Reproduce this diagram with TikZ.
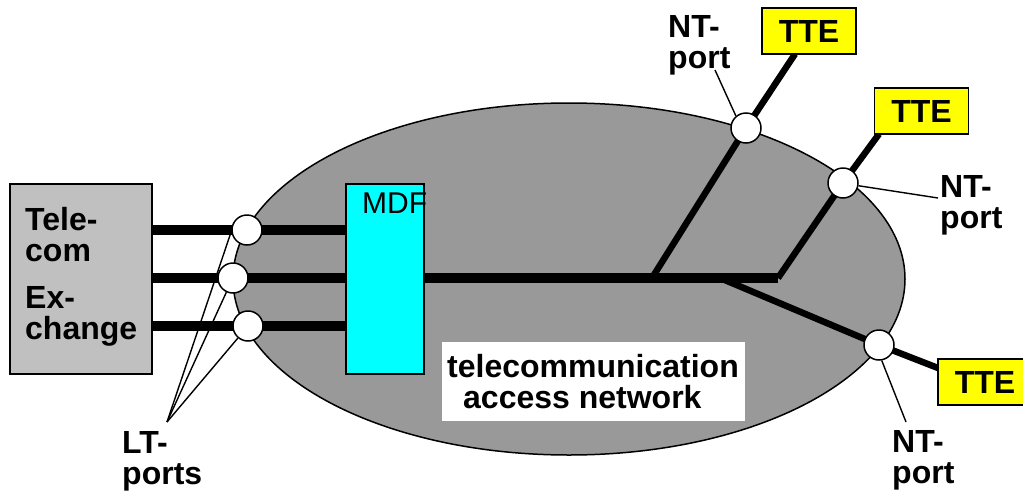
\documentclass[tikz,border=0pt]{standalone}
\usepackage{fontspec}
\setmainfont{Liberation Sans}
\definecolor{netgray}{RGB}{153,153,153}
\definecolor{exgray}{RGB}{192,192,192}
\definecolor{mdfcyan}{RGB}{0,255,255}
\definecolor{tteyellow}{RGB}{255,255,0}
\newcommand\lblfont{\fontsize{32}{31}\selectfont\bfseries}
\newcommand\ttefont{\fontsize{32}{32}\selectfont\bfseries}
\begin{document}
\begin{tikzpicture}[x=1pt,y=-1pt,
  leader/.style={line width=1.4pt},
  feeder/.style={line width=9.5pt},
  branch/.style={line width=6.5pt},
  port/.style={circle, draw, fill=white, line width=1.5pt, minimum size=30pt, inner sep=0pt},
  tte/.style={draw, fill=tteyellow, line width=1.5pt, minimum width=94pt, minimum height=46pt, inner sep=0pt, font=\ttefont},
  lbl/.style={inner sep=0pt, align=left, anchor=base west, font=\lblfont},
  blk/.style={draw, line width=1.5pt, inner sep=0pt}]
\useasboundingbox (0,0) rectangle (1023,493);
\fill[white] (0,0) rectangle (1023,493);
% network cloud
\filldraw[fill=netgray, line width=1.5pt] (569,279) ellipse [x radius=336pt, y radius=176pt];
% positions
\coordinate (p1c) at (247,230);
\coordinate (p2c) at (233,278);
\coordinate (p3c) at (248,326);
\coordinate (j1) at (652,278);
\coordinate (j2) at (778,278);
\coordinate (j3) at (720,278);
\coordinate (n1c) at (746,128);
\coordinate (n2c) at (843,183);
\coordinate (n3c) at (879,345);
\coordinate (t1in) at (795,54);
\coordinate (t2in) at (879,134);
\coordinate (t3in) at (938,368);
% exchange
\node[blk, fill=exgray, minimum width=142pt, minimum height=190pt] (ex) at (81,279) {};
\node[lbl] (extxt) at (25,339) {Tele-\\com\\[16pt]Ex-\\change};
% MDF box (coordinates for feeders)
\node[blk, fill=mdfcyan, minimum width=78pt, minimum height=190pt] (mdf) at (385,279) {};
% feeders
\draw[feeder] (ex.east |- p1c) -- (mdf.west |- p1c);
\draw[feeder] (ex.east |- p2c) -- (mdf.west |- p2c);
\draw[feeder] (ex.east |- p3c) -- (mdf.west |- p3c);
\node[blk, fill=mdfcyan, minimum width=78pt, minimum height=190pt] (mdf2) at (mdf) {};
\node[anchor=base west, inner sep=0pt, font=\fontsize{30}{30}\selectfont] (mdft) at (362,213) {MDF};
% access network lines
\draw[feeder] (mdf.east |- j2) -- (j2);
\draw[branch] (j1) -- (n1c) -- (t1in);
\draw[branch] (j2) -- (n2c) -- (t2in);
\draw[branch] (j3) -- (n3c) -- (t3in);
% text box
\node[fill=white, minimum width=303pt, minimum height=79pt, inner sep=0pt] (tanbox) at (593.5,381.5) {};
\node[lbl] (tan) at (447,408) {telecommunication\\\hspace*{16pt}access network};
% TTE boxes
\node[tte] (tte1) at (809,31) {TTE};
\node[tte] (tte2) at (921.5,111) {TTE};
\node[tte] (tte3) at (985,382) {TTE};
% ports
\node[port] (p1) at (p1c) {};
\node[port] (p2) at (p2c) {};
\node[port] (p3) at (p3c) {};
\node[port] (n1) at (n1c) {};
\node[port] (n2) at (n2c) {};
\node[port] (n3) at (n3c) {};
% LT labels
\coordinate (lta) at (167,422);
\draw[leader] (lta) -- (p1.185);
\draw[leader] (lta) -- (p2.245);
\draw[leader] (lta) -- (p3.230);
\node[lbl] (lt) at (122,484) {LT-\\ports};
% NT labels
\coordinate (nt1a) at (715,70);
\coordinate (nt2a) at (938,198);
\coordinate (nt3a) at (906,422);
\draw[leader] (nt1a) -- (n1.130);
\draw[leader] (n2.350) -- (nt2a);
\draw[leader] (n3.280) -- (nt3a);
\node[lbl] (nt1) at (668,68) {NT-\\port};
\node[lbl] (nt2) at (940,228) {NT-\\port};
\node[lbl] (nt3) at (892,483) {NT-\\port};
\end{tikzpicture}
\end{document}
